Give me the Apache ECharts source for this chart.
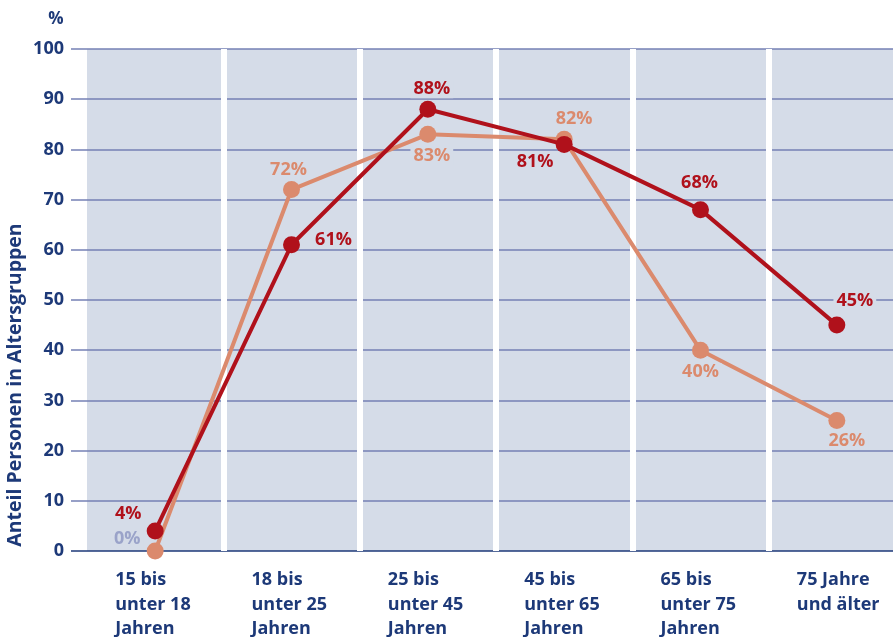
<!DOCTYPE html>
<html><head><meta charset="utf-8">
<script src="https://cdn.jsdelivr.net/npm/echarts@6/dist/echarts.min.js"></script>
<style>html,body{margin:0;padding:0;background:#fff}#c{width:893px;height:637px}</style>
</head><body><div id="c"></div>
<script>
// ---- data ----
const categories = ['15 bis\nunter 18\nJahren', '18 bis\nunter 25\nJahren', '25 bis\nunter 45\nJahren', '45 bis\nunter 65\nJahren', '65 bis\nunter 75\nJahren', '75 Jahre\nund älter'];
const valuesDark = [4, 61, 88, 81, 68, 45];
const valuesLight = [0, 72, 83, 82, 40, 26];
const yMin = 0, yMax = 100, yStep = 10;
const yAxisTitle = 'Anteil Personen in Altersgruppen';
const unitLabel = '%';

// ---- layout / style ----
const FONT = 'Open Sans';
const NAVY = '#1d3978';
const BAND = '#d5dce8';
const GRIDLINE = '#7480b5';
const DARK = '#b0111b';
const LIGHT = '#db8a6d';
const darkOffsets = [[-27,-17],[42,-5],[4,-20],[-29,17],[-1,-27],[18,-24]];
const lightOffsets = [[-28,-12],[-3,-20],[4,22],[10,-20],[0,22],[10,20]];
const lightLabelColors = ['#9aa3c9', LIGHT, LIGHT, LIGHT, LIGHT, LIGHT];

function mkData(vals, offs, colors) {
  return vals.map((v, i) => ({
    value: v,
    label: { offset: offs[i], color: colors[i] }
  }));
}

const splitColors = [NAVY];
for (let i = 0; i < 10; i++) splitColors.push(GRIDLINE);

const chart = echarts.init(document.getElementById('c'), null, {renderer: 'canvas'});
const labelBase = {
  show: true, position: 'inside', formatter: '{c}%',
  fontFamily: FONT, fontWeight: 'bold', fontSize: 18,
  backgroundColor: BAND, padding: [0, 3]
};
chart.setOption({
  animation: false,
  backgroundColor: '#fff',
  grid: [
    {left: 71, right: 0, top: 49, bottom: 86, show: false, z: 1, outerBoundsMode: 'none', containLabel: false},
    {left: 87, width: 818, top: 49, bottom: 86, show: true, backgroundColor: BAND, borderWidth: 0, z: 0, outerBoundsMode: 'none', containLabel: false}
  ],
  xAxis: [
    {gridIndex: 0, type: 'value', show: false},
    {gridIndex: 1, type: 'category', data: categories, boundaryGap: true, z: 3,
     axisLine: {show: false}, axisTick: {show: false},
     splitLine: {show: true, interval: (idx) => idx > 0, lineStyle: {color: '#ffffff', width: 6}},
     axisLabel: {
       margin: 17,
       formatter: (v) => v.split('\n').map(s => '{a|' + s + '}').join('\n'),
       rich: {a: {width: 80, align: 'left', fontFamily: FONT, fontWeight: 'bold', fontSize: 18, color: NAVY, lineHeight: 24.5}}
     }}
  ],
  yAxis: [
    {gridIndex: 0, type: 'value', min: yMin, max: yMax, interval: yStep, z: 2,
     axisLine: {show: false}, axisTick: {show: false},
     axisLabel: {margin: 7, fontFamily: FONT, fontWeight: 'bold', fontSize: 18, color: NAVY},
     splitLine: {show: true, lineStyle: {color: splitColors, width: 1.5}}},
    {gridIndex: 1, type: 'value', min: yMin, max: yMax, interval: yStep, show: false}
  ],
  graphic: [
    {type: 'text', x: 56, y: 19, z: 10, style: {text: unitLabel, fill: NAVY, font: 'bold 17px "' + FONT + '"', align: 'center', verticalAlign: 'middle'}},
    {type: 'text', x: 15, y: 385, rotation: Math.PI / 2, z: 10, style: {text: yAxisTitle, fill: NAVY, font: 'bold 19.5px "' + FONT + '"', align: 'center', verticalAlign: 'middle'}}
  ],
  series: [
    {type: 'line', xAxisIndex: 1, yAxisIndex: 1, z: 5,
     data: mkData(valuesLight, lightOffsets, lightLabelColors),
     symbol: 'circle', symbolSize: 17, lineStyle: {color: LIGHT, width: 4}, itemStyle: {color: LIGHT},
     label: labelBase},
    {type: 'line', xAxisIndex: 1, yAxisIndex: 1, z: 6,
     data: mkData(valuesDark, darkOffsets, valuesDark.map(() => DARK)),
     symbol: 'circle', symbolSize: 17, lineStyle: {color: DARK, width: 4}, itemStyle: {color: DARK},
     label: labelBase}
  ]
});
</script>
</body></html>
